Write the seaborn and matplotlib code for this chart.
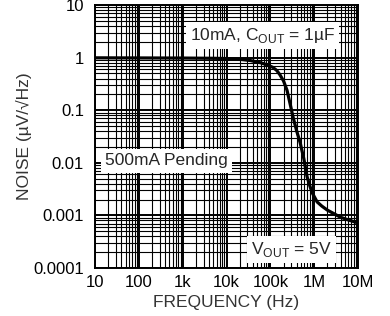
import numpy as np
import pandas as pd
import seaborn as sns
import matplotlib.pyplot as plt
from matplotlib.ticker import LogLocator, NullFormatter, FixedLocator

# noise curve
freq_hz = [10, 100, 1e3, 5e3, 1e4, 2e4, 3.5e4, 5.9e4, 8.5e4, 1.15e5, 1.4e5, 1.66e5, 2e5, 2.4e5,
           2.9e5, 3.3e5, 4e5, 4.8e5, 5.8e5, 6.9e5, 8e5, 9e5, 1.17e6, 1.5e6, 2e6, 3e6, 3.9e6, 6e6, 1e7]
noise_uv = [0.99, 0.985, 0.98, 0.97, 0.96, 0.93, 0.88, 0.80, 0.73, 0.65, 0.57, 0.47, 0.36, 0.24,
            0.12, 0.074, 0.04, 0.024, 0.012, 0.0054, 0.0036, 0.0027, 0.0018, 0.0015, 0.00126, 0.00105,
            0.00093, 0.00082, 0.00072]

x_ticks = [10, 100, 1e3, 1e4, 1e5, 1e6, 1e7]
x_labels = ["10", "100", "1k", "10k", "100k", "1M", "10M"]
y_ticks = [0.0001, 0.001, 0.01, 0.1, 1, 10]
y_labels = ["0.0001", "0.001", "0.01", "0.1", "1", "10"]

df = pd.DataFrame({"freq": freq_hz, "noise": noise_uv})

sns.set_style("white")
plt.rcParams['font.family'] = ['Liberation Sans', 'DejaVu Sans']
plt.rcParams['mathtext.fontset'] = 'custom'
plt.rcParams['mathtext.rm'] = 'Liberation Sans'

fig = plt.figure(figsize=(3.9, 3.16), dpi=100)
ax = fig.add_axes([95 / 390, 1 - 268 / 316, 263 / 390, 263 / 316])

ax.set_xscale("log")
ax.set_yscale("log")
ax.set_xlim(10, 1e7)
ax.set_ylim(1e-4, 10)

ax.xaxis.set_minor_locator(LogLocator(base=10, subs=np.arange(2, 10), numticks=30))
ax.yaxis.set_minor_locator(LogLocator(base=10, subs=np.arange(2, 10), numticks=30))
ax.xaxis.set_minor_formatter(NullFormatter())
ax.yaxis.set_minor_formatter(NullFormatter())
ax.grid(True, which="major", color="black", lw=1.4)
ax.grid(True, which="minor", color="black", lw=0.8)
ax.set_axisbelow(True)

sns.lineplot(data=df, x="freq", y="noise", color="black", lw=2.3, ax=ax, zorder=3)

ax.xaxis.set_major_locator(FixedLocator(x_ticks))
ax.set_xticklabels(x_labels)
ax.yaxis.set_major_locator(FixedLocator(y_ticks))
ax.set_yticklabels(y_labels)
ax.tick_params(which="both", length=0, labelsize=12, labelcolor="black")
ax.tick_params(axis="x", pad=5)
ax.tick_params(axis="y", pad=8)

for s in ax.spines.values():
    s.set_color("black")
    s.set_linewidth(1.4)

ax.set_xlabel("FREQUENCY (Hz)", fontsize=12.5, color="#333333", labelpad=4)
ax.set_ylabel("NOISE (µV/√Hz)", fontsize=12.5, color="#333333", labelpad=1)

box = dict(facecolor="white", edgecolor="none", pad=3)
ax.text(0.913, 0.885, r"10mA, C$_{\mathregular{OUT}}$ = 1µF", transform=ax.transAxes,
        ha="right", va="center", fontsize=12.5, bbox=box, zorder=5)
ax.text(0.038, 0.407, "500mA Pending", transform=ax.transAxes,
        ha="left", va="center", fontsize=12.5, bbox=box, zorder=5)
ax.text(0.901, 0.07, r"V$_{\mathregular{OUT}}$ = 5V", transform=ax.transAxes,
        ha="right", va="center", fontsize=12.5, bbox=box, zorder=5)

fig.savefig("out.png", dpi=100)
